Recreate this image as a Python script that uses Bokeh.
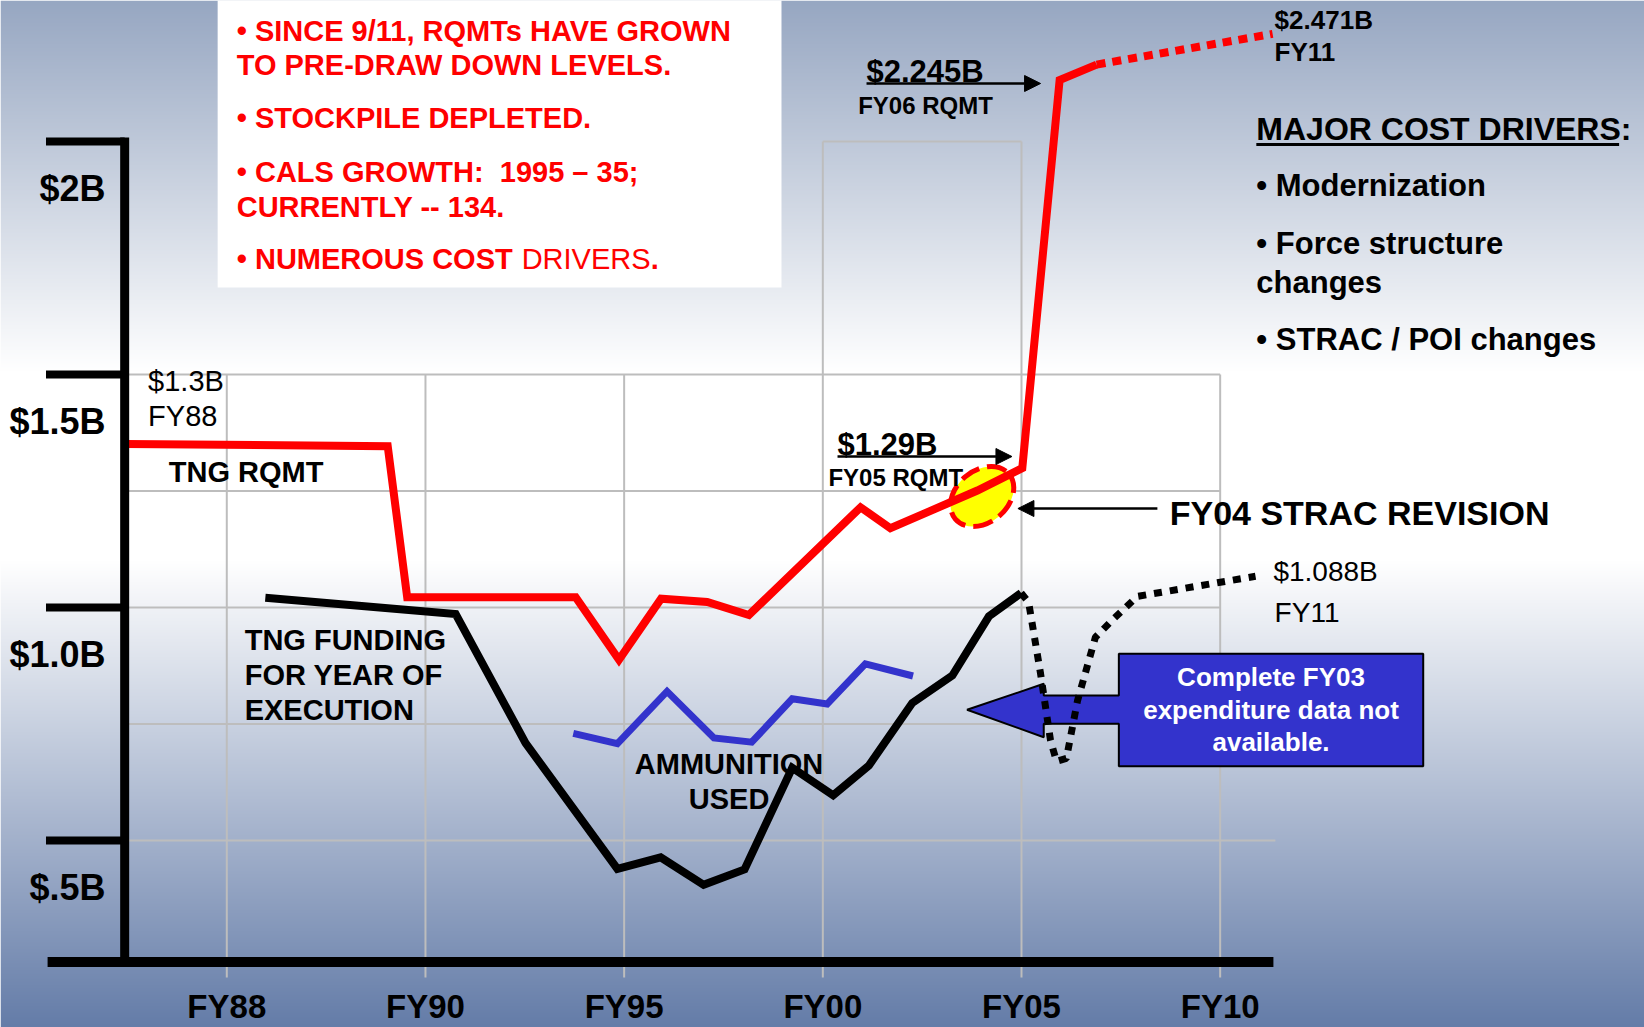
import numpy as np
from bokeh.plotting import figure
from bokeh.models import Range1d, Arrow, NormalHead
from bokeh.core.properties import value
from bokeh.embed import file_html
from bokeh.resources import INLINE

# ---------------- data (fiscal-year position, $ billions) ----------------
x_ticks = [1985, 1990, 1995, 2000, 2005, 2010]
x_tick_labels = ["FY88", "FY90", "FY95", "FY00", "FY05", "FY10"]
y_ticks = [2.0, 1.5, 1.0, 0.5]
y_tick_labels = ["$2B", "$1.5B", "$1.0B", "$.5B"]
grid_b = [1.5, 1.25, 1.0, 0.75, 0.5]

# TNG RQMT (red)
rqmt_fy = [1982.45, 1989.05, 1989.54, 1993.78, 1994.87, 1995.93, 1997.09,
           1998.14, 2000.95, 2001.70, 2003.89, 2005.02, 2005.96, 2006.89]
rqmt_b = [1.351, 1.346, 1.022, 1.022, 0.888, 1.019, 1.012,
          0.984, 1.215, 1.170, 1.251, 1.299, 2.132, 2.165]
rqmt_proj_fy = [2006.89, 2011.32]
rqmt_proj_b = [2.165, 2.231]

# TNG funding for year of execution (black)
fund_fy = [1985.97, 1990.76, 1992.52, 1994.83, 1995.92, 1997.00, 1998.03,
           1999.23, 2000.26, 2001.16, 2002.25, 2003.26, 2004.18, 2004.99]
fund_b = [1.021, 0.986, 0.709, 0.439, 0.464, 0.405, 0.438,
          0.656, 0.597, 0.661, 0.795, 0.854, 0.981, 1.031]
fund_proj_fy = [2004.99, 2005.18, 2005.48, 2005.73, 2005.88, 2006.13,
                2006.41, 2006.86, 2007.32, 2007.92, 2010.89]
fund_proj_b = [1.031, 1.011, 0.858, 0.715, 0.670, 0.676,
               0.800, 0.936, 0.976, 1.024, 1.067]

# Ammunition used (blue)
ammo_fy = [1993.72, 1994.83, 1996.08, 1997.26, 1998.21, 1999.23, 2000.11, 2001.07, 2002.27]
ammo_b = [0.730, 0.708, 0.820, 0.720, 0.711, 0.804, 0.793, 0.879, 0.853]

# ---------------- figure ----------------
W, H = 1644, 1027
X0, X1 = 1979.305, 2020.679
Y0, Y1 = 0.09871, 2.30258

p = figure(width=W, height=H, x_range=Range1d(X0, X1), y_range=Range1d(Y0, Y1),
           output_backend="svg", toolbar_location=None, min_border=0,
           x_axis_location=None, y_axis_location=None, outline_line_color=None)
p.grid.visible = False

FONT = value("Liberation Sans")

# background gradient (slide fill)
rows = np.arange(H, dtype=float)
stops_y = [0, 370, 560, 1027]
stops_c = [(151, 167, 194), (255, 255, 255), (255, 255, 255), (100, 124, 168)]
img = np.zeros((H, 1), dtype=np.uint32)
view = img.view(dtype=np.uint8).reshape((H, 1, 4))
for k in range(3):
    ch = np.interp(rows, stops_y, [c[k] for c in stops_c])
    view[:, 0, k] = ch[::-1].astype(np.uint8)
view[:, 0, 3] = 255
p.image_rgba(image=[img], x=X0, y=Y0, dw=X1 - X0, dh=Y1 - Y0)

# axis geometry (data units)
ax_x = 1982.43
ax_y = 0.2393
tick_left = 1980.45
grid_col = "#BDBDBD"

# grid lines
p.segment(x0=x_ticks, y0=[0.206] * len(x_ticks), x1=x_ticks, y1=[max(grid_b)] * len(x_ticks),
          line_color=grid_col, line_width=2)
grid_right = [x_ticks[-1]] * (len(grid_b) - 1) + [2011.39]
p.segment(x0=[ax_x] * len(grid_b), y0=grid_b, x1=grid_right, y1=grid_b,
          line_color=grid_col, line_width=2)
p.segment(x0=[2000, 2005, 2000], y0=[1.5, 1.5, 2.0], x1=[2000, 2005, 2005], y1=[2.0, 2.0, 2.0],
          line_color=grid_col, line_width=2)

# white text box
p.quad(left=1984.77, right=1998.96, bottom=1.6867, top=2.32, fill_color="white", line_color=None)

# highlighted FY04 revision ellipse
p.ellipse(x=2004.01, y=1.2382, width=70, height=52, angle=0.7,
          width_units="screen", height_units="screen",
          fill_color="#FFFF00", line_color="#FF0000", line_width=5, line_dash="20 8")

# series
p.line(rqmt_fy, rqmt_b, line_color="#FF0000", line_width=8, line_join="miter")
p.line(fund_fy, fund_b, line_color="black", line_width=8, line_join="miter")
p.line(ammo_fy, ammo_b, line_color="#3333CC", line_width=7, line_join="miter")

# callout arrow box
cx = [2007.45, 2015.11, 2015.11, 2007.45, 2007.45, 2005.56, 2005.56, 2003.63, 2005.56, 2005.56, 2007.45]
cy = [0.9006, 0.9006, 0.6594, 0.6594, 0.7504, 0.7504, 0.7217, 0.7805, 0.8363, 0.8112, 0.8112]
p.patch(cx, cy, fill_color="#3333CC", line_color="black", line_width=2)

# projections (dotted)
p.line(fund_proj_fy, fund_proj_b, line_color="black", line_width=7, line_dash="8 8")
p.line(rqmt_proj_fy, rqmt_proj_b, line_color="#FF0000", line_width=8, line_dash="9 7")

# axes drawn as slide strokes
p.segment(x0=[ax_x], y0=[ax_y], x1=[ax_x], y1=[max(y_ticks) + 0.0086], line_color="black", line_width=9)
p.segment(x0=[tick_left] * len(y_ticks), y0=y_ticks, x1=[ax_x] * len(y_ticks), y1=y_ticks,
          line_color="black", line_width=8)
p.segment(x0=[1980.49], y0=[ax_y], x1=[2011.34], y1=[ax_y], line_color="black", line_width=10)

# tick labels
p.text(x=[1981.95] * len(y_ticks), y=[t - 0.10 for t in y_ticks], text=y_tick_labels,
       text_font=FONT, text_font_style="bold", text_font_size="36px",
       text_align="right", text_baseline="middle", text_color="black")
p.text(x=x_ticks, y=[0.1438] * len(x_ticks), text=x_tick_labels,
       text_font=FONT, text_font_style="bold", text_font_size="33px",
       text_align="center", text_baseline="middle", text_color="black")


def txt(x, y, s, size, bold=True, color="black", align="left"):
    p.text(x=x, y=y, text=s, text_font=FONT, text_font_style="bold" if bold else "normal",
           text_font_size=size, text_align=align, text_baseline="middle", text_color=color)


# box text
txt([1985.25] * 5, [2.2382, 2.1631, 2.0494, 1.9335, 1.8584],
    ["\u2022 SINCE 9/11, RQMTs HAVE GROWN", "TO PRE-DRAW DOWN LEVELS.",
     "\u2022 STOCKPILE DEPLETED.", "\u2022 CALS GROWTH: \u00a01995 \u2013 35;",
     "CURRENTLY -- 134."], "29px", color="#FF0000")
txt([1985.25], [1.7468], ["\u2022 NUMEROUS COST"], "29px", color="#FF0000")
txt([1992.42], [1.7468], ["DRIVERS"], "29px", bold=False, color="#FF0000")
txt([1995.67], [1.7468], ["."], "29px", color="#FF0000")

# left annotations
txt([1983.02, 1983.02], [1.4871, 1.4099], ["$1.3B", "FY88"], "29px", bold=False)
txt([1983.54], [1.2903], ["TNG RQMT"], "29px")
txt([1985.45] * 3, [0.9292, 0.8541, 0.7790], ["TNG FUNDING", "FOR YEAR OF", "EXECUTION"], "29px")
txt([1997.64] * 2, [0.6652, 0.5901], ["AMMUNITION", "USED"], "29px", align="center")

# requirement call-outs
txt([2001.10], [2.1502], ["$2.245B"], "31px")
txt([2000.89], [2.0773], ["FY06 RQMT"], "24px")
txt([2011.37, 2011.37], [2.2597, 2.1921], ["$2.471B", "FY11"], "26px")
txt([2000.37], [1.3498], ["$1.29B"], "31px")
txt([2000.14], [1.2779], ["FY05 RQMT"], "24px")
txt([2008.73], [1.2024], ["FY04 STRAC REVISION"], "34px")
txt([2011.34, 2011.37], [1.0773, 0.9893], ["$1.088B", "FY11"], "28px", bold=False)

# cost drivers
txt([2010.91], [2.0279], ["MAJOR COST DRIVERS:"], "32px")
p.segment(x0=[2010.91], y0=[1.9936], x1=[2020.04], y1=[1.9936], line_color="black", line_width=3)
txt([2010.91] * 4, [1.9056, 1.7811, 1.6985, 1.5751],
    ["\u2022 Modernization", "\u2022 Force structure", "changes", "\u2022 STRAC / POI changes"], "31px")

# callout text
txt([2011.28] * 3, [0.8498, 0.7811, 0.7124],
    ["Complete FY03", "expenditure data not", "available."], "26px", color="white", align="center")

# arrows
for xs, xe, yy in [(2001.10, 2005.48, 2.1245), (2000.37, 2004.76, 1.3240), (2008.42, 2004.91, 1.2124)]:
    p.add_layout(Arrow(end=NormalHead(size=16, fill_color="black", line_color="black", line_width=1),
                       x_start=xs, y_start=yy, x_end=xe, y_end=yy,
                       line_color="black", line_width=2.5))

open("out.html", "w").write(file_html(p, INLINE))
